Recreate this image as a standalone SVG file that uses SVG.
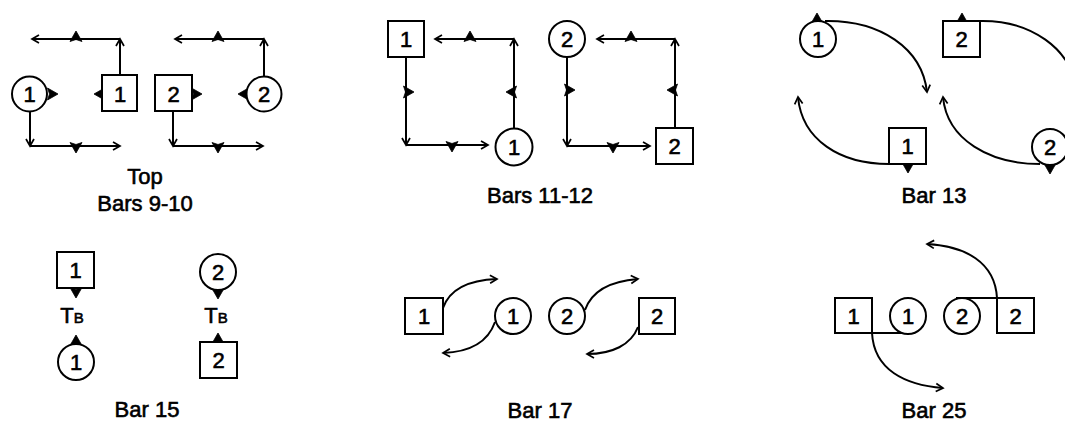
<svg xmlns="http://www.w3.org/2000/svg" xmlns:xlink="http://www.w3.org/1999/xlink" width="1065" height="421" viewBox="0 0 1065 421">
<style>
.n{fill:#fff;stroke:#000;stroke-width:2}
.l{font-family:"Liberation Sans",Arial,sans-serif;font-size:22px;fill:#000;stroke:#000;stroke-width:0.6;text-anchor:middle}
.c{font-family:"Liberation Sans",Arial,sans-serif;font-size:22px;fill:#000;stroke:#000;stroke-width:0.6;text-anchor:middle}
.e{fill:none;stroke:#000;stroke-width:2;marker-end:url(#oa)}
.p{fill:none;stroke:#000;stroke-width:2}
</style>
<defs>
<marker id="oa" viewBox="-10 -6 12 12" markerWidth="12" markerHeight="12" refX="0" refY="0" orient="auto" markerUnits="userSpaceOnUse">
<path d="M-7,-4 L0,0 L-7,4" fill="none" stroke="#000" stroke-width="1.7"/>
</marker>
<path id="tri" d="M0,-9 L6,1.5 L0,-0.5 L-6,1.5 Z" fill="#000" stroke="#000" stroke-width="0.8" stroke-linejoin="round"/>
</defs>
<rect width="1065" height="421" fill="#fff"/>

<g id="connectors">
<!-- Top / Bars 9-10 -->
<path class="e" d="M120,75 V39"/>
<path class="e" d="M120,39 H32"/>
<path class="e" d="M30,112 V146"/>
<path class="e" d="M30,146 H120"/>
<path class="e" d="M264,77 V39"/>
<path class="e" d="M264,39 H175"/>
<path class="e" d="M173,111 V146"/>
<path class="e" d="M173,146 H263"/>
<!-- Bars 11-12 -->
<path class="e" d="M514,129 V39"/>
<path class="e" d="M514,39 H435"/>
<path class="e" d="M406,57 V145"/>
<path class="e" d="M406,145 H488"/>
<path class="e" d="M675,128 V39"/>
<path class="e" d="M675,39 H597"/>
<path class="e" d="M567,57 V146"/>
<path class="e" d="M567,146 H650"/>
<!-- Bar 13 -->
<path class="e" d="M825,21 C880,20 922,48 927,92"/>
<path class="e" d="M980,21 C1030,20 1072,48 1077,92"/>
<path class="e" d="M889,164 C840,164 802,140 798,97"/>
<path class="e" d="M1040,164 C990,164 947,140 943,97"/>
<!-- Bar 17 -->
<path class="e" d="M443,308 C450,288 470,280 497,279"/>
<path class="e" d="M495,322 C488,342 470,352 443,353"/>
<path class="e" d="M585,310 C592,290 612,281 638,279"/>
<path class="e" d="M638,327 C631,345 612,354 587,354"/>
<!-- Bar 25 -->
<path class="p" d="M872,333 H915"/>
<path class="p" d="M956,298 H997"/>
<path class="e" d="M872,333 C874,370 905,385 943,388"/>
<path class="e" d="M997,298 C995,262 965,246 927,244"/>
<!-- small filled marks -->
<use xlink:href="#tri" transform="translate(76,40)"/>
<use xlink:href="#tri" transform="translate(76,144) rotate(180)"/>
<use xlink:href="#tri" transform="translate(49,94) rotate(90)"/>
<use xlink:href="#tri" transform="translate(103,94) rotate(-90)"/>
<use xlink:href="#tri" transform="translate(193,94) rotate(90)"/>
<use xlink:href="#tri" transform="translate(218,40)"/>
<use xlink:href="#tri" transform="translate(218,144) rotate(180)"/>
<use xlink:href="#tri" transform="translate(247,94) rotate(-90)"/>
<use xlink:href="#tri" transform="translate(470,40)"/>
<use xlink:href="#tri" transform="translate(452,143) rotate(180)"/>
<use xlink:href="#tri" transform="translate(405,92) rotate(90)"/>
<use xlink:href="#tri" transform="translate(515,92) rotate(-90)"/>
<use xlink:href="#tri" transform="translate(631,40)"/>
<use xlink:href="#tri" transform="translate(613,144) rotate(180)"/>
<use xlink:href="#tri" transform="translate(566,90) rotate(90)"/>
<use xlink:href="#tri" transform="translate(676,90) rotate(-90)"/>
<use xlink:href="#tri" transform="translate(817,22)"/>
<use xlink:href="#tri" transform="translate(962,22)"/>
<use xlink:href="#tri" transform="translate(908,164) rotate(180)"/>
<use xlink:href="#tri" transform="translate(1050,165) rotate(180)"/>
<use xlink:href="#tri" transform="translate(76,289) rotate(180)"/>
<use xlink:href="#tri" transform="translate(218,290) rotate(180)"/>
<use xlink:href="#tri" transform="translate(76,344)"/>
<use xlink:href="#tri" transform="translate(218,342)"/>
</g>

<!-- Top / Bars 9-10 nodes -->
<g id="t-c1"><circle class="n" cx="29.5" cy="94" r="17.5"/><text class="l" x="29.5" y="102">1</text></g>
<g id="t-b1"><rect class="n" x="102" y="75" width="35" height="36"/><text class="l" x="120" y="102">1</text></g>
<g id="t-b2"><rect class="n" x="155" y="75" width="37" height="36"/><text class="l" x="173.5" y="102">2</text></g>
<g id="t-c2"><circle class="n" cx="264" cy="94" r="17.5"/><text class="l" x="264" y="102">2</text></g>

<!-- Bars 11-12 -->
<g id="b11-b1"><rect class="n" x="388" y="21" width="36" height="36"/><text class="l" x="406" y="47">1</text></g>
<g id="b11-c1"><circle class="n" cx="514" cy="147" r="18.5"/><text class="l" x="514" y="155">1</text></g>
<g id="b11-c2"><circle class="n" cx="567" cy="39" r="18"/><text class="l" x="567" y="47">2</text></g>
<g id="b11-b2"><rect class="n" x="656" y="128" width="37" height="36"/><text class="l" x="674.5" y="154">2</text></g>

<!-- Bar 13 -->
<g id="b13-c1"><circle class="n" cx="818" cy="39" r="18"/><text class="l" x="818" y="47">1</text></g>
<g id="b13-b2"><rect class="n" x="943" y="21" width="37" height="36"/><text class="l" x="961.5" y="47">2</text></g>
<g id="b13-b1"><rect class="n" x="889" y="128" width="37" height="36"/><text class="l" x="907.5" y="154">1</text></g>
<g id="b13-c2"><circle class="n" cx="1050" cy="147" r="18"/><text class="l" x="1050" y="155">2</text></g>

<!-- Bar 15 -->
<g id="b15-b1"><rect class="n" x="57" y="252" width="37" height="36"/><text class="l" x="75.5" y="278">1</text></g>
<g id="b15-c1"><circle class="n" cx="76" cy="362" r="18"/><text class="l" x="76" y="370">1</text></g>
<g id="b15-c2"><circle class="n" cx="218" cy="272" r="18"/><text class="l" x="218" y="280">2</text></g>
<g id="b15-b2"><rect class="n" x="200" y="342" width="37" height="36"/><text class="l" x="218.5" y="368">2</text></g>
<g id="b15-tb1"><text class="c" x="72" y="323">T<tspan font-size="15">B</tspan></text></g>
<g id="b15-tb2"><text class="c" x="216" y="323">T<tspan font-size="15">B</tspan></text></g>

<!-- Bar 17 -->
<g id="b17-b1"><rect class="n" x="405" y="298" width="38" height="36"/><text class="l" x="424" y="324">1</text></g>
<g id="b17-c1"><circle class="n" cx="513" cy="316" r="18"/><text class="l" x="513" y="324">1</text></g>
<g id="b17-c2"><circle class="n" cx="567" cy="316" r="18"/><text class="l" x="567" y="324">2</text></g>
<g id="b17-b2"><rect class="n" x="639" y="298" width="36" height="36"/><text class="l" x="657" y="324">2</text></g>

<!-- Bar 25 -->
<g id="b25-b1"><rect class="n" x="835" y="298" width="37" height="35"/><text class="l" x="853.5" y="323.5">1</text></g>
<g id="b25-c1"><circle class="n" cx="908" cy="316" r="18"/><text class="l" x="908" y="324">1</text></g>
<g id="b25-c2"><circle class="n" cx="962" cy="316" r="18"/><text class="l" x="962" y="324">2</text></g>
<g id="b25-b2"><rect class="n" x="997" y="298" width="37" height="35"/><text class="l" x="1015.5" y="323.5">2</text></g>

<g id="captions">
<text class="c" x="145" y="184">Top</text>
<text class="c" x="145" y="211">Bars 9-10</text>
<text class="c" x="540" y="203">Bars 11-12</text>
<text class="c" x="934" y="203">Bar 13</text>
<text class="c" x="147" y="417">Bar 15</text>
<text class="c" x="540" y="418">Bar 17</text>
<text class="c" x="934" y="418">Bar 25</text>
</g>
</svg>
